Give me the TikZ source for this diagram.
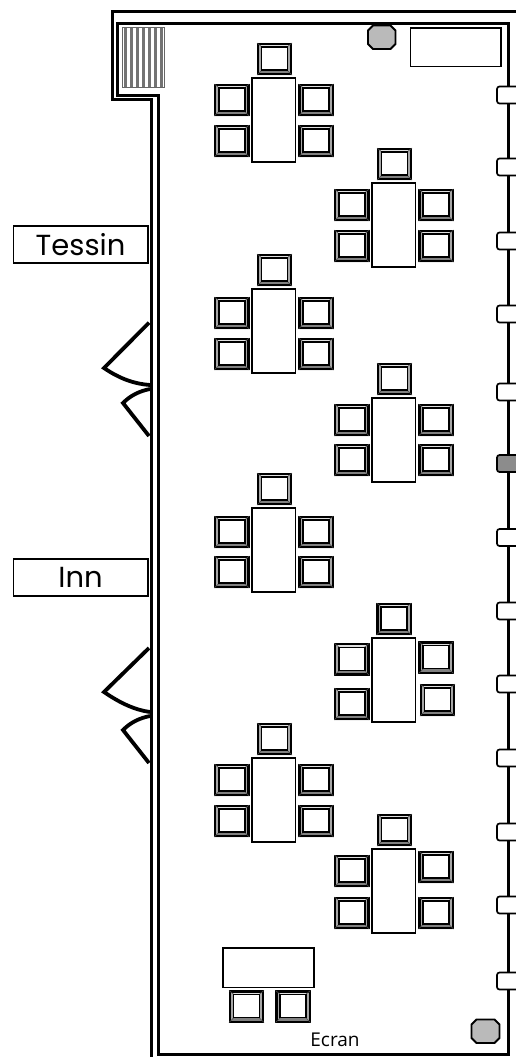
\documentclass[tikz,border=0pt]{standalone}
\usepackage{fontspec}
\setmainfont{Poppins}
\newfontfamily\smallfont{Open Sans}
\tikzset{
  wall/.style={draw=black,line width=3pt,line cap=butt,line join=miter},
  door/.style={draw=black,line width=3.8pt,line join=miter},
  tablebox/.style={draw=black,line width=1.6pt,fill=white},
  labelbox/.style={draw=black,line width=1.6pt,fill=white},
  pillar/.style={draw=black,line width=1.8pt,fill=black!27},
  bumpbox/.style={draw=black,line width=1.7pt,fill=white,rounded corners=2.5pt},
  stripe/.style={draw=black!55,line width=3pt},
}
\newcommand{\chairat}[2]{%
  \fill[black!35] (#1,#2) rectangle ++(35,32);
  \fill[black!12] (#1,#2) -- ++(35,0) -- ++(-5,4) -- ++(-25,0) -- cycle;
  \fill[black!50] (#1,#2+32) -- ++(35,0) -- ++(-5,-5) -- ++(-25,0) -- cycle;
  \draw[black,line width=2.2pt] (#1+.9,#2+.9) rectangle (#1+34.1,#2+31.1);
  \draw[black!70,line width=.5pt] (#1,#2) -- ++(5,4) (#1+35,#2) -- ++(-5,4) (#1,#2+32) -- ++(5,-5) (#1+35,#2+32) -- ++(-5,-5);
  \draw[black,line width=1.6pt,fill=white] (#1+4.5,#2+4) rectangle (#1+30.5,#2+27);
}
\newcommand{\tableat}[8]{% x y(top of table) leftY1 leftY2 rightY1 rightY2 topX topY
  \draw[tablebox] (#1,#2) rectangle ++(43.5,84);
  \chairat{#7}{#8}
  \chairat{#1-37.7}{#3}
  \chairat{#1-37.7}{#4}
  \chairat{#1+46.5}{#5}
  \chairat{#1+46.5}{#6}
}
\newcommand{\bumpat}[1]{\draw[bumpbox] (525,#1-8.5) -- (497,#1-8.5) -- (497,#1+8.5) -- (525,#1+8.5);}
\newcommand{\octat}[4]{\draw[pillar] (#1+5,#3) -- (#2-5,#3) -- (#2,#3+5) -- (#2,#4-5) -- (#2-5,#4) -- (#1+5,#4) -- (#1,#4-5) -- (#1,#3+5) -- cycle;}
\begin{document}
\begin{tikzpicture}[x=1pt,y=-1pt]
\useasboundingbox (0,0) rectangle (516,1057);
\clip (0,0) rectangle (516,1057);
\fill[white] (0,0) rectangle (516,1057);
% walls
\draw[wall] (516,11.2) -- (112.7,11.2) -- (112.7,99) -- (151.7,99) -- (151.7,1057);
\draw[wall] (117.5,24) -- (508,24) -- (508,1054) -- (158.5,1054) -- (158.5,95.3) -- (117.5,95.3) -- cycle;
% stripes
\draw[black!60,line width=.8pt,fill=white] (122,27.5) rectangle (164.5,87.5);
\foreach \i in {0,...,6} {\draw[stripe] (125.5+\i*6,28) -- (125.5+\i*6,87);}
% pillars and counter
\octat{368}{395.5}{25.5}{49}
\octat{471.5}{499.5}{1019.5}{1043}
\draw[tablebox,line width=1.8pt] (410.5,28) rectangle (501,66.5);
% wall units
\foreach \y in {95,167,241,314,392,537.5,611,684,758,832,905,981} {\bumpat{\y}}
\draw[bumpbox,fill=black!45] (525,455) -- (497,455) -- (497,472) -- (525,472);
% tables
\tableat{252}{78}{84}{125}{84}{125}{257}{43}
\tableat{372}{183}{189}{230}{189}{230}{377}{148}
\tableat{252}{289}{297}{338}{297}{338}{257}{254}
\tableat{372}{398}{404}{444}{404}{444}{377}{363}
\tableat{252}{508}{516}{556}{516}{556}{257}{473}
\draw[tablebox] (372,638) rectangle ++(43.5,84);
\chairat{376.5}{603}
\chairat{334.3}{643.3}
\chairat{334.3}{688}
\chairat{418.5}{641.5}
\chairat{420}{684}
\tableat{252}{758}{764}{805}{764}{805}{257}{723}
\tableat{372}{849}{855}{897}{851}{897}{377}{814}
\draw[tablebox] (222.7,948) rectangle (314,987.3);
\chairat{229}{990.5}
\chairat{275.5}{990.5}
% doors
\draw[door] (149,322.7) -- (104,368) .. controls (120,379) and (135,384) .. (150,385);
\draw[door] (150,389) .. controls (140,391) and (131,395) .. (123,403) -- (149,436);
\draw[door] (149,648) -- (104,692) .. controls (120,703) and (135,710) .. (150,712);
\draw[door] (150,716) .. controls (140,718) and (131,722) .. (123,730) -- (149,763);
% labels
\node[labelbox,minimum width=134.5pt,minimum height=37pt,inner sep=0pt,anchor=north west,font=\fontsize{29}{29}\selectfont] (tessin) at (12.5,225) {Tessin};
\node[labelbox,minimum width=134.5pt,minimum height=37pt,inner sep=0pt,anchor=north west,font=\fontsize{29}{29}\selectfont] (inn) at (12.5,558) {Inn};
\node[font=\smallfont\fontsize{19}{19}\selectfont,anchor=base,inner sep=0pt] (ecran) at (335,1046.5) {Ecran};
\end{tikzpicture}
\end{document}
